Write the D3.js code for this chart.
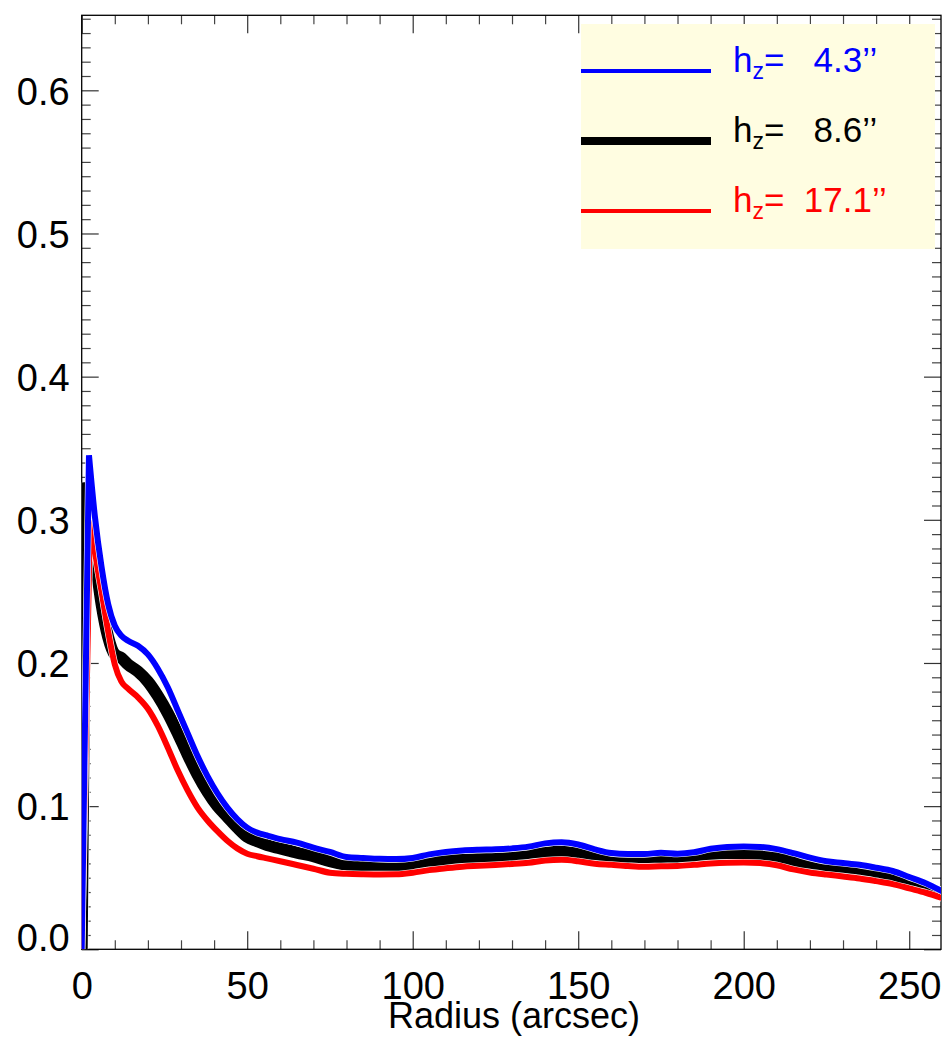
<!DOCTYPE html>
<html>
<head>
<meta charset="utf-8">
<script src="https://cdn.jsdelivr.net/npm/d3@7"></script>
<style>
  html, body { margin: 0; padding: 0; background: #fff; }
  svg { display: block; font-family: "Liberation Sans", Arial, Helvetica, sans-serif; }
</style>
</head>
<body>
<svg id="chart" width="944" height="1053"></svg>
<script>
// Outer radial sampling (arcsec) shared by the three profiles
const radiusOuter = [4, 6, 8, 10, 12, 14, 17, 20, 23, 26, 29, 32, 35, 38, 41, 44, 47, 50,
  53, 56, 60, 65, 70, 75, 80, 85, 90, 95, 100, 105, 110, 115, 120, 125, 130, 135, 140, 145,
  150, 155, 160, 165, 170, 175, 180, 185, 190, 195, 200, 205, 210, 215, 220, 225, 230, 235,
  240, 245, 250, 255, 260];

// Inner part of each profile: centre radius, peak radius and their values
const innerRadius = { h43: [0, 2.2], h86: [0, 1.2], h171: [0, 2.6] };
const innerValue  = { h43: [0, 0.345], h86: [0, 0.326], h171: [0, 0.311] };

// Profile for h_z = 4.3" (outer part)
const profileH43 = [0.302, 0.267, 0.241, 0.226, 0.219, 0.2155, 0.212, 0.206,
  0.196, 0.183, 0.167, 0.151, 0.135, 0.121, 0.109, 0.099, 0.091, 0.085,
  0.0815, 0.0795, 0.077, 0.0745, 0.071, 0.068, 0.0645, 0.0638, 0.0632, 0.063,
  0.0638, 0.0663, 0.068, 0.069, 0.0695, 0.0698, 0.0705, 0.0717, 0.074, 0.0748,
  0.0732, 0.0698, 0.0672, 0.0665, 0.0665, 0.0675, 0.0668, 0.0678, 0.0702, 0.0715,
  0.0718, 0.0715, 0.07, 0.0672, 0.064, 0.0615, 0.0603, 0.059, 0.057, 0.0547,
  0.0505, 0.0462, 0.0405];

// Profile for h_z = 8.6" (outer part)
const profileH86 = [0.275, 0.241, 0.218, 0.206, 0.2035, 0.199, 0.194, 0.187,
  0.177, 0.165, 0.151, 0.136, 0.122, 0.11, 0.1, 0.0925, 0.085, 0.0785,
  0.0755, 0.0728, 0.0705, 0.0675, 0.065, 0.0615, 0.059, 0.0578, 0.0576, 0.0576,
  0.0585, 0.0605, 0.062, 0.063, 0.0636, 0.064, 0.0647, 0.0657, 0.0675, 0.0682,
  0.0668, 0.0645, 0.0632, 0.0625, 0.0622, 0.0625, 0.0624, 0.0635, 0.0652, 0.066,
  0.0663, 0.0658, 0.0645, 0.0615, 0.059, 0.057, 0.0556, 0.0538, 0.0522, 0.0495,
  0.046, 0.0425, 0.038];

// Profile for h_z = 17.1" (outer part)
const profileH171 = [0.279, 0.25, 0.222, 0.199, 0.187, 0.182, 0.176, 0.168,
  0.156, 0.141, 0.125, 0.111, 0.099, 0.09, 0.0825, 0.0758, 0.0705, 0.0668,
  0.065, 0.0635, 0.0615, 0.0589, 0.0563, 0.0535, 0.0527, 0.0524, 0.0523, 0.0524,
  0.0535, 0.0553, 0.0566, 0.0577, 0.0583, 0.0589, 0.0596, 0.0605, 0.062, 0.0625,
  0.0615, 0.0598, 0.059, 0.0582, 0.0577, 0.058, 0.0582, 0.059, 0.06, 0.0605,
  0.0606, 0.0602, 0.0587, 0.0558, 0.0537, 0.0522, 0.0509, 0.0495, 0.0476, 0.0455,
  0.0425, 0.0395, 0.0358];

// Scale heights shown in the legend (arcsec)
const scaleHeights = [4.3, 8.6, 17.1];
const seriesColors = ["#0000ff", "#000000", "#ff0000"];

// Tick values
const xMajorTicks = [0, 50, 100, 150, 200, 250];
const xMinorTicks = d3.range(0, 26).map(i => i * 10).filter(v => v % 50 !== 0);
const yMajorTicks = [0, 0.1, 0.2, 0.3, 0.4, 0.5, 0.6];
const yMinorTicks = d3.range(0, 66).filter(i => i % 10 !== 0).map(i => i / 100);

const svg = d3.select("#chart");
const plotL = 81.7, plotR = 941, plotT = 15.3, plotB = 949.3;

const x = d3.scaleLinear().domain([0, 259.6]).range([plotL, plotR]);
const y = d3.scaleLinear().domain([0, 0.6524]).range([plotB, plotT]);

const tickFont = 38;
const fontStack = "Liberation Sans, Arial, Helvetica, sans-serif";

// ---- axes (ticks on all four sides, pointing inward) ----
function styleTicks(g, color) {
  g.select(".domain").remove();
  g.selectAll(".tick line").attr("stroke", color).attr("stroke-width", 1.2);
}

// bottom
svg.append("g").attr("transform", `translate(0,${plotB})`)
  .call(d3.axisBottom(x).tickValues(xMinorTicks).tickSize(-9).tickFormat(""))
  .call(g => styleTicks(g, "#444"));
const xAxisG = svg.append("g").attr("transform", `translate(0,${plotB})`)
  .call(d3.axisBottom(x).tickValues(xMajorTicks).tickSize(-18).tickPadding(0).tickFormat(d3.format("d")))
  .call(g => styleTicks(g, "#333"));
xAxisG.selectAll(".tick text")
  .attr("y", 49.5).attr("dy", null)
  .attr("fill", "#000").attr("font-size", tickFont)
  .attr("font-family", fontStack);

// top
svg.append("g").attr("transform", `translate(0,${plotT})`)
  .call(d3.axisTop(x).tickValues(xMinorTicks).tickSize(-9).tickFormat(""))
  .call(g => styleTicks(g, "#444"));
svg.append("g").attr("transform", `translate(0,${plotT})`)
  .call(d3.axisTop(x).tickValues(xMajorTicks).tickSize(-18).tickFormat(""))
  .call(g => styleTicks(g, "#333"));

// left
svg.append("g").attr("transform", `translate(${plotL},0)`)
  .call(d3.axisLeft(y).tickValues(yMinorTicks).tickSize(-9).tickFormat(""))
  .call(g => styleTicks(g, "#444"));
const yAxisG = svg.append("g").attr("transform", `translate(${plotL},0)`)
  .call(d3.axisLeft(y).tickValues(yMajorTicks).tickSize(-17).tickPadding(12).tickFormat(d3.format(".1f")))
  .call(g => styleTicks(g, "#333"));
yAxisG.selectAll(".tick text")
  .attr("dy", d => d === 0 ? "0.02em" : "0.36em")
  .attr("fill", "#000").attr("font-size", tickFont)
  .attr("font-family", fontStack);

// right
svg.append("g").attr("transform", `translate(${plotR},0)`)
  .call(d3.axisRight(y).tickValues(yMinorTicks).tickSize(-9).tickFormat(""))
  .call(g => styleTicks(g, "#444"));
svg.append("g").attr("transform", `translate(${plotR},0)`)
  .call(d3.axisRight(y).tickValues(yMajorTicks).tickSize(-17).tickFormat(""))
  .call(g => styleTicks(g, "#333"));

// frame
svg.append("rect")
  .attr("x", plotL).attr("y", plotT)
  .attr("width", plotR - plotL).attr("height", plotB - plotT)
  .attr("fill", "none").attr("stroke", "#000").attr("stroke-width", 1.3);

// x-axis title
svg.append("text")
  .attr("x", 514).attr("y", 1028)
  .attr("text-anchor", "middle")
  .attr("font-size", 36)
  .attr("fill", "#000")
  .text("Radius (arcsec)");

// ---- profiles ----
svg.append("clipPath").attr("id", "plot-clip")
  .append("rect").attr("x", plotL).attr("y", plotT)
  .attr("width", plotR - plotL).attr("height", plotB - plotT);

const series = [
  { key: "h86", values: profileH86, color: seriesColors[1], width: 12 },
  { key: "h171", values: profileH171, color: seriesColors[2], width: 6 },
  { key: "h43", values: profileH43, color: seriesColors[0], width: 6 }
];

const linearSeg = d3.line().x(d => x(d[0])).y(d => y(d[1]));
const smoothSeg = d3.line().x(d => x(d[0])).y(d => y(d[1])).curve(d3.curveMonotoneX);

// straight rise from the centre to the peak, then a smooth decline
function profilePath(s) {
  const inner = innerRadius[s.key].map((r, i) => [r, innerValue[s.key][i]]);
  const outer = radiusOuter.map((r, i) => [r, s.values[i]]);
  const head = linearSeg(inner);
  const tail = smoothSeg([inner[inner.length - 1], ...outer]);
  return head + tail.replace(/^M[^C]*/, "");
}

const curves = svg.append("g").attr("clip-path", "url(#plot-clip)");
series.forEach(s => {
  const d = profilePath(s);
  curves.append("path")
    .attr("d", d)
    .attr("fill", "none")
    .attr("stroke", "#fff")
    .attr("stroke-width", s.width + 1.2)
    .attr("stroke-linejoin", "miter");
  curves.append("path")
    .attr("d", d)
    .attr("fill", "none")
    .attr("stroke", s.color)
    .attr("stroke-width", s.width)
    .attr("stroke-linejoin", "miter");
});

// ---- legend ----
const legend = svg.append("g");
legend.append("rect")
  .attr("x", 581).attr("y", 24)
  .attr("width", 354).attr("height", 225)
  .attr("fill", "#fffde1");

const legendRows = [0, 1, 2];
const legendWidths = [4, 8, 4];
const rowY = [71, 141, 211];
const fmt = d3.format(">4.1f");

legendRows.forEach(i => {
  legend.append("line")
    .attr("x1", 581).attr("x2", 711)
    .attr("y1", rowY[i]).attr("y2", rowY[i])
    .attr("stroke", seriesColors[i])
    .attr("stroke-width", legendWidths[i]);

  const t = legend.append("text")
    .attr("x", 733).attr("y", rowY[i] + 1)
    .attr("font-size", 35)
    .attr("fill", seriesColors[i])
    .attr("xml:space", "preserve")
    .style("white-space", "pre");
  t.append("tspan").text("h");
  t.append("tspan").attr("font-size", 23).attr("dy", 7).text("z");
  t.append("tspan").attr("dy", -7).text("=  " + fmt(scaleHeights[i]) + "\u2019\u2019");
});
</script>
</body>
</html>
